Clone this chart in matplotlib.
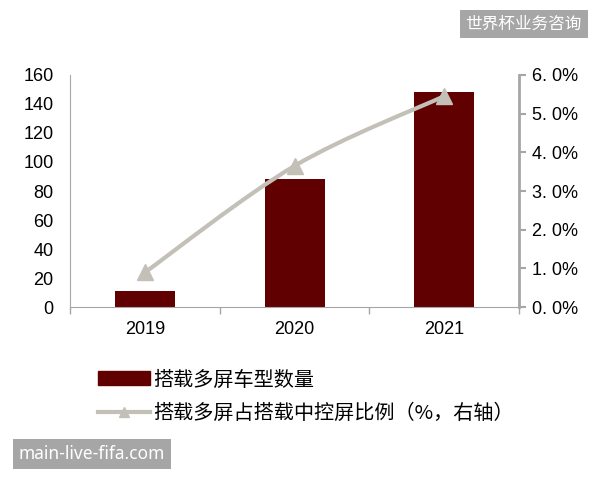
import matplotlib.pyplot as plt
import numpy as np
from matplotlib.path import Path
from matplotlib.patches import PathPatch
from matplotlib.lines import Line2D
from matplotlib.patches import Patch

plt.rcParams['font.family'] = ['Liberation Sans', 'Noto Sans CJK SC', 'DejaVu Sans']

years = ['2019', '2020', '2021']
models = [11, 88, 148]            # 搭载多屏车型数量
share = [0.9, 3.65, 5.45]         # 搭载多屏占搭载中控屏比例 (%)
left_ticks = [0, 20, 40, 60, 80, 100, 120, 140, 160]
right_ticks = [0, 1, 2, 3, 4, 5, 6]

bar_color = '#600000'
line_color = '#c3c0b8'
spine_color = '#a6a6a6'

fig = plt.figure(figsize=(6, 4.8), dpi=100)
ax = fig.add_axes([0.117, 0.360, 0.748, 0.484])
x = np.arange(len(years))
ax.bar(x, models, width=0.4, color=bar_color, zorder=2)
ax.set_xlim(-0.5, 2.5)
ax.set_ylim(0, 160)
ax.set_yticks(left_ticks)
ax.tick_params(axis='y', length=0, labelsize=13, pad=12)
ax.set_xticks(x)
ax.set_xticklabels(years)
ax.set_xticks([-0.5, 0.5, 1.5, 2.5], minor=True)
ax.tick_params(axis='x', which='major', length=0, labelsize=13, pad=10)
ax.tick_params(axis='x', which='minor', length=5, color=spine_color, width=1)
ax.spines['top'].set_visible(False)
ax.spines['left'].set_color(spine_color)
ax.spines['bottom'].set_color(spine_color)
ax.spines['right'].set_visible(False)

ax2 = ax.twinx()
ax2.set_ylim(0, 6)
ax2.set_yticks(right_ticks)
ax2.set_yticklabels([f'{v:.1f}%'.replace('.', '. ') for v in right_ticks])
ax2.tick_params(axis='y', length=5, color=spine_color, width=1.5, labelsize=13, pad=4)
ax2.spines['right'].set_color(spine_color)
ax2.spines['right'].set_linewidth(2)
for s in ['top', 'left', 'bottom']:
    ax2.spines[s].set_visible(False)

# smoothed line (Catmull-Rom to cubic Bezier, like Excel's smoothed line)
pts = np.column_stack([x, share]).astype(float)
verts = [pts[0]]
codes = [Path.MOVETO]
n = len(pts)
for i in range(n - 1):
    p0 = pts[i - 1] if i > 0 else pts[i]
    p1 = pts[i]
    p2 = pts[i + 1]
    p3 = pts[i + 2] if i + 2 < n else pts[i + 1]
    c1 = p1 + (p2 - p0) / 6
    c2 = p2 - (p3 - p1) / 6
    verts += [c1, c2, p2]
    codes += [Path.CURVE4] * 3
ax2.add_patch(PathPatch(Path(verts, codes), facecolor='none', edgecolor=line_color, lw=3, zorder=3))
ax2.plot(x, share, linestyle='none', marker='^', markersize=12, color=line_color, zorder=4)

handles = [Patch(color=bar_color),
           Line2D([0], [0], color=line_color, lw=3, marker='^', markersize=7)]
labels = ['搭载多屏车型数量', '搭载多屏占搭载中控屏比例（%，右轴）']
fig.legend(handles, labels, loc='upper left', bbox_to_anchor=(0.133, 0.268),
           frameon=False, handlelength=2.6, handleheight=0.7,
           handletextpad=0.15, labelspacing=0.6,
           prop={'family': ['Noto Sans CJK SC'], 'size': 14.5, 'weight': 'medium'})

fig.text(0.873, 0.950, '世界杯业务咨询', color='white', fontsize=12, ha='center', va='center',
         family=['Noto Sans CJK SC'],
         bbox=dict(boxstyle='square,pad=0.35', facecolor='#a6a6a6', edgecolor='none'))
fig.text(0.153, 0.054, 'main-live-fifa.com', color='white', fontsize=12.5, ha='center', va='center',
         family=['Noto Sans', 'DejaVu Sans'],
         bbox=dict(boxstyle='square,pad=0.35', facecolor='#a6a6a6', edgecolor='none'))

fig.savefig('out.png', dpi=100)
